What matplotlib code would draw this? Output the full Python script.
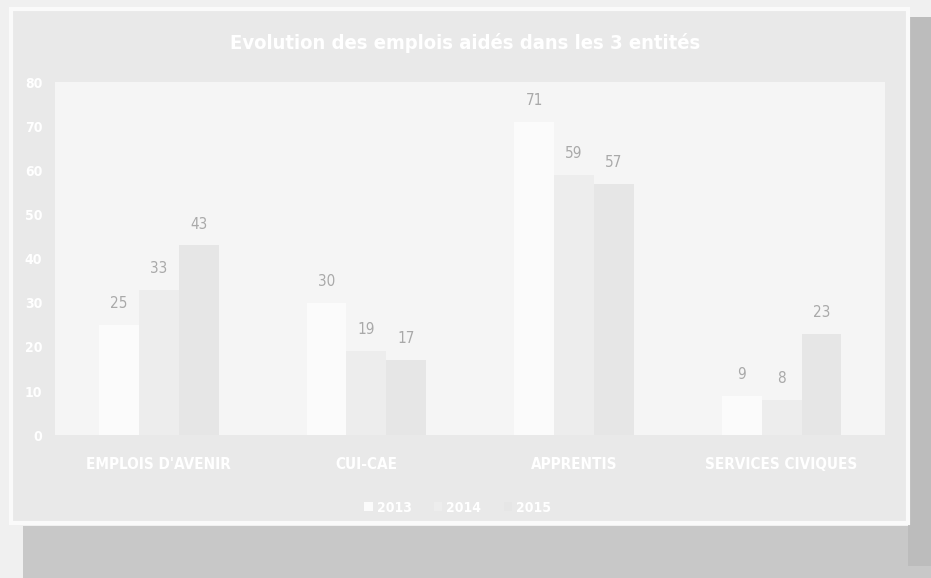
import matplotlib.pyplot as plt
import matplotlib.patches as patches
import numpy as np

categories = ["EMPLOIS D'AVENIR", "CUI-CAE", "APPRENTIS", "SERVICES CIVIQUES"]
years = ['2013', '2014', '2015']
v2013 = [25, 30, 71, 9]
v2014 = [33, 19, 59, 8]
v2015 = [43, 17, 57, 23]
yticks = [0, 10, 20, 30, 40, 50, 60, 70, 80]

bar_colors = ['#fbfbfb', '#ededed', '#e6e6e6']
label_color = '#a9a9a9'
font = ['DejaVu Sans']
cond = dict(family=font, stretch='condensed')

fig = plt.figure(figsize=(9.31, 5.78), dpi=100)
fig.patch.set_facecolor('#f0f0f0')

# drop shadow and panel behind the chart
fig.patches.append(patches.Rectangle((0.025, 0.0), 0.975, 0.09, transform=fig.transFigure,
                                     facecolor='#c8c8c8', edgecolor='none', zorder=0))
fig.patches.append(patches.Rectangle((0.975, 0.02), 0.025, 0.95, transform=fig.transFigure,
                                     facecolor='#bcbcbc', edgecolor='none', zorder=0))
fig.patches.append(patches.Rectangle((0.012, 0.095), 0.963, 0.89, transform=fig.transFigure,
                                     facecolor='#e9e9e9', edgecolor='#fafafa', linewidth=3, zorder=1))

ax = fig.add_axes([0.059, 0.247, 0.892, 0.611])
ax.set_facecolor('#f5f5f5')
ax.set_zorder(2)

x = np.arange(len(categories))
w = 0.192
series = [v2013, v2014, v2015]
for i, vals in enumerate(series):
    bars = ax.bar(x + (i - 1) * w, vals, width=w, color=bar_colors[i], label=years[i])
    for b, v in zip(bars, vals):
        ax.annotate(str(v), (b.get_x() + b.get_width() / 2, v), xytext=(0, 10),
                    textcoords='offset points', ha='center', va='bottom',
                    fontsize=11, color=label_color, **cond)

ax.set_xlim(-0.5, len(categories) - 0.5)
ax.set_ylim(0, 80)
ax.set_yticks(yticks)
ax.set_xticks(x)
ax.set_xticklabels(categories)
for s in ax.spines.values():
    s.set_visible(False)
ax.tick_params(length=0)
ax.tick_params(axis='y', pad=9)
ax.tick_params(axis='x', pad=16)
for t in ax.get_yticklabels():
    t.set_color('white')
    t.set_fontsize(10)
    t.set_fontweight('bold')
    t.set_family(font)
    t.set_stretch('condensed')
for t in ax.get_xticklabels():
    t.set_color('white')
    t.set_fontsize(11)
    t.set_fontweight('bold')
    t.set_family(font)
    t.set_stretch('condensed')

fig.text(0.5, 0.925, 'Evolution des emplois aidés dans les 3 entités', ha='center', va='center',
         color='white', fontsize=14.5, fontweight='bold', **cond)

leg = ax.legend(loc='upper center', bbox_to_anchor=(0.485, -0.15), ncol=3, frameon=False,
                handlelength=0.6, handleheight=0.6, columnspacing=1.6, handletextpad=0.3,
                prop={'family': font, 'size': 10, 'weight': 'bold', 'stretch': 'condensed'})
for t in leg.get_texts():
    t.set_color('white')

fig.savefig('out.png', dpi=100, facecolor=fig.get_facecolor())
